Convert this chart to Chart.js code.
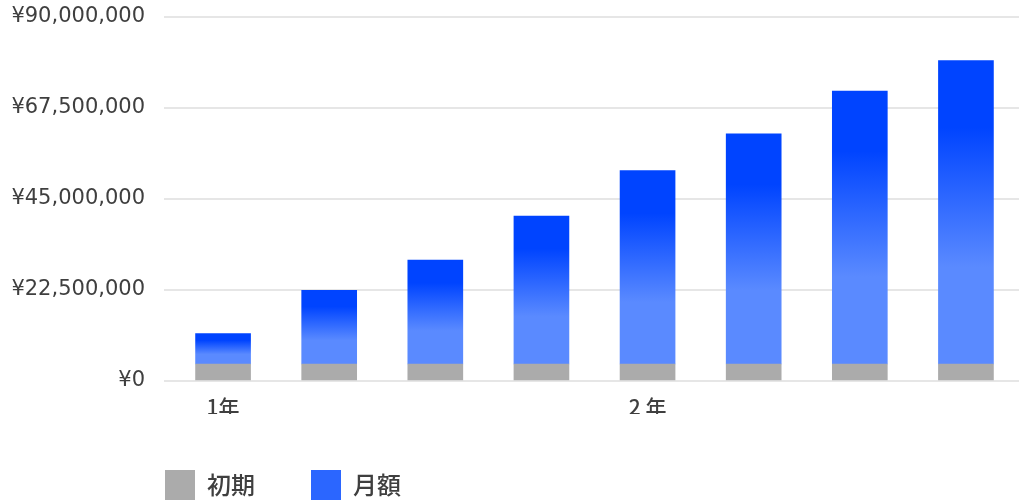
<!DOCTYPE html>
<html>
<head>
<meta charset="utf-8">
<script src="https://cdn.jsdelivr.net/npm/chart.js@4/dist/chart.umd.min.js"></script>
<style>
    html, body { margin: 0; padding: 0; background: #fff; }
    #wrap { width: 1024px; height: 503px; }
</style>
</head>
<body>
<div id="wrap"><canvas id="costChart"></canvas></div>
<script>
// data
const xLabels = ['1年', '', '', '', '2 年', '', '', ''];
const initialCost = [4200000, 4200000, 4200000, 4200000, 4200000, 4200000, 4200000, 4200000];
const monthlyCost = [7500000, 18200000, 25700000, 36600000, 47800000, 56900000, 67500000, 75000000];
const yTicks = [0, 22500000, 45000000, 67500000, 90000000];
const seriesNames = ['初期', '月額'];

const grayColor = '#ababab';
const blueColor = '#2b66ff';
const textColor = '#3f3f3f';

// each bar gets its own vertical gradient, dark at the top
function monthlyFill(ctx) {
    if (ctx.type !== 'data') return blueColor;
    const chart = ctx.chart;
    if (!chart.chartArea) return blueColor;
    const y = chart.scales.y;
    const i = ctx.dataIndex;
    const top = y.getPixelForValue(initialCost[i] + monthlyCost[i]);
    const bottom = y.getPixelForValue(initialCost[i]);
    const g = chart.ctx.createLinearGradient(0, top, 0, bottom);
    g.addColorStop(0, '#0044ff');
    g.addColorStop(0.22, '#0044ff');
    g.addColorStop(0.68, '#5a8aff');
    g.addColorStop(1, '#5a8aff');
    return g;
}

// push the legend to the right so it starts under the plot
const legendShift = {
    id: 'legendShift',
    afterLayout(chart) {
        if (chart.legend) chart.legend.left += 109;
    }
};

const costChart = new Chart(document.getElementById('costChart'), {
    type: 'bar',
    data: {
        labels: xLabels,
        datasets: [
            { label: seriesNames[0], data: initialCost, backgroundColor: grayColor },
            { label: seriesNames[1], data: monthlyCost, backgroundColor: monthlyFill }
        ]
    },
    options: {
        responsive: true,
        maintainAspectRatio: false,
        animation: false,
        layout: { padding: { left: 0, right: 5, top: 17, bottom: 0 } },
        datasets: { bar: { barThickness: 55 } },
        scales: {
            x: {
                stacked: true,
                grid: { display: false, drawTicks: false },
                border: { display: false },
                ticks: {
                    color: textColor,
                    padding: 13,
                    maxRotation: 0,
                    autoSkip: false,
                    font: { family: "'Noto Sans CJK JP', 'DejaVu Sans', sans-serif", size: 21, weight: '500' }
                },
                afterFit: (scale) => { scale.height = 33; }
            },
            y: {
                stacked: true,
                min: 0,
                max: 90000000,
                afterBuildTicks: (scale) => { scale.ticks = yTicks.map(v => ({ value: v })); },
                afterFit: (scale) => {
                    scale.width = 170;
                    scale.paddingTop = 0;
                    scale.paddingBottom = 0;
                },
                grid: { color: '#e6e6e6', lineWidth: 2, drawTicks: true, tickLength: 6 },
                border: { display: false },
                ticks: {
                    color: textColor,
                    padding: 19,
                    font: { family: "'DejaVu Sans', sans-serif", size: 21 },
                    callback: (v) => '¥' + Number(v).toLocaleString('en-US')
                }
            }
        },
        plugins: {
            tooltip: { enabled: false },
            legend: {
                position: 'bottom',
                align: 'start',
                maxHeight: 89,
                labels: {
                    boxWidth: 30,
                    boxHeight: 30,
                    padding: 56,
                    color: textColor,
                    font: { family: "'Noto Sans CJK JP', sans-serif", size: 24, weight: '500' },
                    generateLabels: (chart) => {
                        const items = Chart.defaults.plugins.legend.labels.generateLabels(chart);
                        items.forEach(item => {
                            item.fillStyle = item.datasetIndex === 0 ? grayColor : blueColor;
                            item.strokeStyle = item.fillStyle;
                            item.lineWidth = 0;
                        });
                        return items;
                    }
                }
            }
        }
    },
    plugins: [legendShift]
});
</script>
</body>
</html>
